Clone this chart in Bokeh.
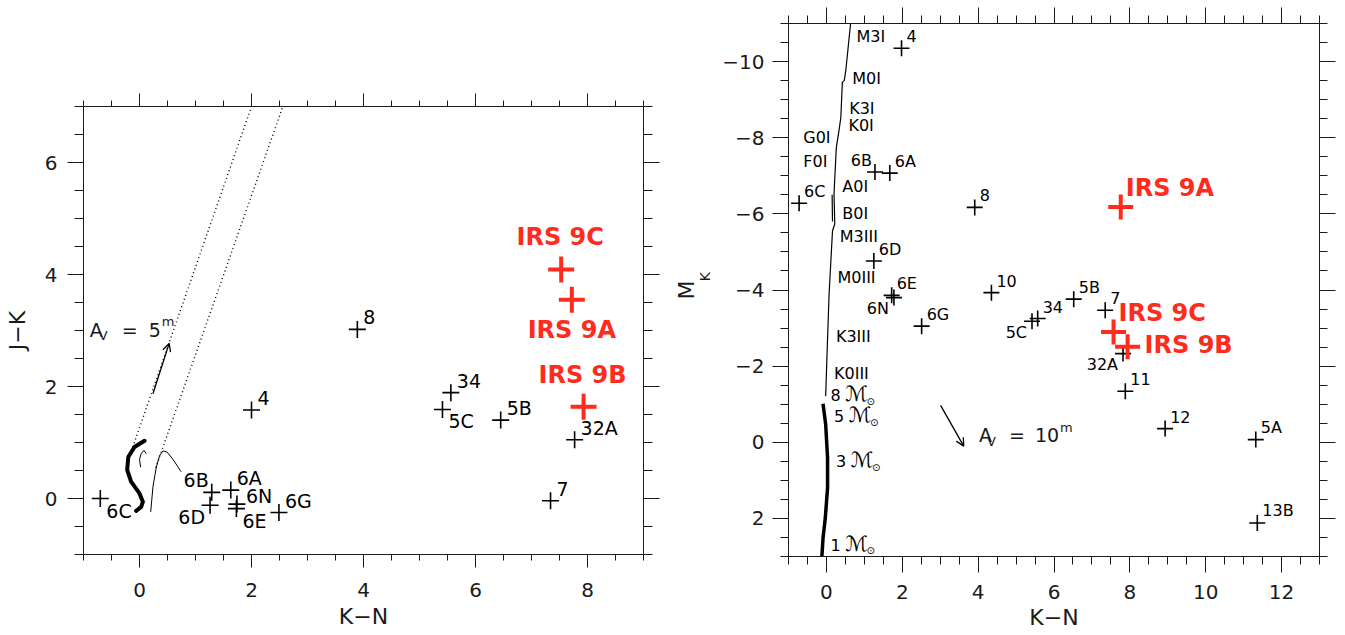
from bokeh.plotting import figure
from bokeh.models import (Range1d, LinearAxis, FixedTicker, Arrow, OpenHead,
                          ColumnDataSource)
from bokeh.layouts import row, column
from bokeh.embed import file_html
from bokeh.resources import INLINE
from bokeh.core.properties import value

# ---------------- data: colour-colour diagram (K-N, J-K) ----------------
cc_names = ["6C", "6B", "6A", "6D", "6N", "6E", "6G", "4", "8", "34", "5C", "5B", "32A", "7"]
cc_kn = [-0.70, 1.29, 1.63, 1.26, 1.74, 1.73, 2.49, 2.00, 3.89, 5.56, 5.41, 6.45, 7.77, 7.34]
cc_jk = [0.00, 0.11, 0.15, -0.12, -0.10, -0.18, -0.25, 1.58, 3.02, 1.89, 1.59, 1.40, 1.05, -0.04]
cc_pos = ["lr", "ul", "ur", "ll", "r", "lr", "ur", "ur", "ur", "ur", "lr", "ur", "ur", "ur"]

irs_names = ["IRS 9C", "IRS 9A", "IRS 9B"]
irs_cc_kn = [7.53, 7.72, 7.93]
irs_cc_jk = [4.09, 3.55, 1.64]
irs_cc_pos = ["a", "b", "a"]

# dwarf sequence (thick), small arc, giant branch (thin)
ms_cc_kn = [0.09, -0.09, -0.20, -0.22, -0.15, 0.00, 0.06, 0.03, -0.06]
ms_cc_jk = [1.03, 0.92, 0.74, 0.51, 0.30, 0.09, -0.06, -0.15, -0.22]
arc_cc_kn = [0.02, 0.00, 0.03, 0.08, 0.12]
arc_cc_jk = [0.56, 0.70, 0.80, 0.86, 0.80]
gb_cc_kn = [0.20, 0.24, 0.30, 0.36, 0.42, 0.49, 0.59, 0.69, 0.74]
gb_cc_jk = [-0.24, 0.21, 0.56, 0.77, 0.85, 0.83, 0.71, 0.56, 0.48]
# reddening band
red1_kn = [-0.12, 2.00]
red1_jk = [0.92, 7.00]
red2_kn = [0.29, 2.56]
red2_jk = [0.55, 7.00]
# reddening vector A_V = 5 mag
av_cc_kn = [0.24, 0.53]
av_cc_jk = [1.87, 2.77]
av_cc_val = "5"
av_cc_text_pos = (-0.89, 2.875)

# ---------------- data: K-N vs M_K ----------------
hr_names = ["4", "6B", "6A", "6C", "8", "6D", "6E", "6N", "10", "6G", "34", "5C", "5B", "7",
            "32A", "11", "12", "5A", "13B"]
hr_kn = [1.98, 1.28, 1.67, -0.72, 3.91, 1.25, 1.72, 1.78, 4.35, 2.51, 5.57, 5.42, 6.52, 7.35,
         7.82, 7.88, 8.93, 11.32, 11.36]
hr_mk = [-10.35, -7.10, -7.07, -6.28, -6.17, -4.76, -3.86, -3.80, -3.93, -3.05, -3.25, -3.18,
         -3.76, -3.47, -2.33, -1.34, -0.36, -0.07, 2.12]
hr_pos = ["ur", "ul", "ur", "ur", "ur", "ur", "ur", "ll", "ur", "ur", "ur", "ll", "ur", "ur",
          "ll", "ur", "ur", "ur", "ur"]

irs_hr_kn = [7.57, 7.76, 7.94]
irs_hr_mk = [-2.90, -6.18, -2.51]
irs_hr_names = ["IRS 9C", "IRS 9A", "IRS 9B"]
irs_hr_pos = ["ur", "ur", "r"]

# supergiant/giant sequence (thin) and main sequence (thick)
sg_kn = [0.64, 0.51, 0.47, 0.42, 0.38, 0.33, 0.26, 0.23, 0.20, 0.22, 0.16, 0.07, 0.01, -0.02]
sg_mk = [-11.03, -9.76, -9.50, -9.46, -8.53, -8.18, -7.74, -7.13, -6.52, -5.74, -5.55, -3.89,
         -2.13, -1.21]
sg2_kn = [0.15, 0.16]
sg2_mk = [-6.50, -5.80]
ms_hr_kn = [-0.09, -0.02, 0.03, 0.03, -0.03, -0.09, -0.12]
ms_hr_mk = [-1.01, -0.47, 0.41, 1.20, 1.99, 2.52, 3.00]

sp_labels = ["M3I", "M0I", "K3I", "K0I", "G0I", "F0I", "A0I", "B0I", "M3III", "M0III",
             "K3III", "K0III"]
sp_kn = [0.79, 0.68, 0.60, 0.58, -0.61, -0.61, 0.42, 0.42, 0.35, 0.29, 0.25, 0.20]
sp_mk = [-10.64, -9.54, -8.75, -8.30, -7.98, -7.36, -6.68, -5.97, -5.39, -4.29, -2.76, -1.78]

mass_values = ["8", "5", "3", "1"]
mass_kn = [0.11, 0.20, 0.25, 0.11]
mass_mk = [-1.18, -0.63, 0.55, 2.74]

av_hr_kn = [3.01, 3.62]
av_hr_mk = [-0.97, 0.10]
av_hr_val = "10"
av_hr_text_pos = (4.02, 0.02)

RED = "#ff2b1c"
INK = "#1a1a1a"
FONT = "DejaVu Sans"


def style_axis(ax, ticks, minor, tick_out, minor_out, labels=True, size="20px",
               standoff=10):
    ax.ticker = FixedTicker(ticks=ticks, minor_ticks=minor)
    ax.axis_line_color = INK
    ax.major_tick_line_color = INK
    ax.minor_tick_line_color = INK
    ax.major_tick_in = 0
    ax.minor_tick_in = 0
    ax.major_tick_out = tick_out
    ax.minor_tick_out = minor_out
    ax.major_label_text_font = FONT
    ax.major_label_text_color = INK
    ax.axis_label_text_font = FONT
    ax.axis_label_text_font_style = "normal"
    ax.axis_label_text_color = INK
    ax.axis_label_text_font_size = "22px"
    if labels:
        ax.major_label_text_font_size = size
        ax.major_label_standoff = standoff
    else:
        ax.major_label_text_font_size = "1px"
        ax.major_label_text_alpha = 0
        ax.major_label_standoff = 0


def lift(size_px):
    # empirical correction of the baseline placement of the SVG text
    return round(0.44 * size_px)


def add_labels(p, xs, ys, names, pos, offs, size, color="black", style="normal"):
    for code, (align, dx, dy) in offs.items():
        idx = [i for i, c in enumerate(pos) if c == code]
        if not idx:
            continue
        src = ColumnDataSource(dict(x=[xs[i] for i in idx], y=[ys[i] for i in idx],
                                    t=[names[i] for i in idx]))
        p.text(x="x", y="y", text="t", source=src, x_offset=dx, y_offset=dy - lift(size),
               text_align=value(align), text_baseline=value("alphabetic"),
               text_font=value(FONT), text_font_size=value(f"{size}px"), text_color=color,
               text_font_style=style)


def add_pieces(p, x, y, pieces):
    for txt, dx, dy, size in pieces:
        p.text(x=[x], y=[y], text=[txt], x_offset=dx, y_offset=dy - lift(size),
               text_align="left", text_baseline="alphabetic",
               text_font=value(FONT), text_font_size=value(f"{size}px"), text_color=INK)


def half_steps(a, b):
    n = int(round((b - a) / 0.5))
    return [a + 0.5 * k for k in range(n + 1)]


# ---------------- left panel ----------------
p1 = figure(width=670, height=635, x_range=Range1d(-1, 9), y_range=Range1d(-1, 7),
            output_backend="svg", toolbar_location=None,
            min_border_left=83, min_border_right=27, min_border_top=106,
            min_border_bottom=81, outline_line_color=None,
            background_fill_color="white", border_fill_color="white")
p1.xgrid.visible = False
p1.ygrid.visible = False
p1.xaxis.axis_label = "K\u2212N"
p1.yaxis.axis_label = "J\u2212K"
style_axis(p1.xaxis[0], [0, 2, 4, 6, 8], half_steps(-1, 9), 13, 6, standoff=15)
p1.xaxis[0].axis_label_standoff = 4
style_axis(p1.yaxis[0], [0, 2, 4, 6], half_steps(-1, 7), 16, 9, standoff=10)
p1.yaxis[0].axis_label_standoff = 12
top1 = LinearAxis()
style_axis(top1, [0, 2, 4, 6, 8], half_steps(-1, 9), 13, 6, labels=False)
p1.add_layout(top1, "above")
right1 = LinearAxis()
style_axis(right1, [0, 2, 4, 6], half_steps(-1, 7), 16, 9, labels=False)
p1.add_layout(right1, "right")

p1.line(red1_kn, red1_jk, line_color="black", line_width=1.4, line_dash="1 3")
p1.line(red2_kn, red2_jk, line_color="black", line_width=1.4, line_dash="1 3")
p1.line(ms_cc_kn, ms_cc_jk, line_color="black", line_width=4, line_cap="round",
        line_join="round")
p1.line(arc_cc_kn, arc_cc_jk, line_color="black", line_width=1)
p1.line(gb_cc_kn, gb_cc_jk, line_color="black", line_width=1)
p1.add_layout(Arrow(x_start=av_cc_kn[0], y_start=av_cc_jk[0], x_end=av_cc_kn[1],
                    y_end=av_cc_jk[1], line_color="black", line_width=1.3,
                    end=OpenHead(size=8, line_width=1.3, line_color="black")))
add_pieces(p1, av_cc_text_pos[0], av_cc_text_pos[1],
           [("A", 0, 0, 19), ("V", 9, 4, 13), ("=", 32, 0, 19),
            (av_cc_val, 59, 0, 19), ("m", 72, -10, 13)])

p1.scatter(cc_kn, cc_jk, marker="cross", size=17, line_color="black", line_width=1.6)
add_labels(p1, cc_kn, cc_jk, cc_names, cc_pos,
           {"ur": ("left", 6, -4), "lr": ("left", 6, 20), "ul": ("right", -3, -4),
            "ll": ("right", -5, 20), "r": ("left", 9, 0)}, 19)
p1.scatter(irs_cc_kn, irs_cc_jk, marker="cross", size=26, line_color=RED, line_width=4)
add_labels(p1, irs_cc_kn, irs_cc_jk, irs_names, irs_cc_pos,
           {"a": ("center", -1, -21), "b": ("center", 0, 41)}, 24, color=RED,
           style="bold")

# ---------------- right panel ----------------
p2 = figure(width=675, height=635, x_range=Range1d(-1, 13), y_range=Range1d(3, -11),
            output_backend="svg", toolbar_location=None,
            min_border_left=116, min_border_right=26, min_border_top=23,
            min_border_bottom=79, outline_line_color=None,
            background_fill_color="white", border_fill_color="white")
p2.xgrid.visible = False
p2.ygrid.visible = False
p2.xaxis.axis_label = "K\u2212N"
style_axis(p2.xaxis[0], [0, 2, 4, 6, 8, 10, 12], half_steps(-1, 13), 16, 8, standoff=12)
p2.xaxis[0].axis_label_standoff = 3
style_axis(p2.yaxis[0], [-10, -8, -6, -4, -2, 0, 2], half_steps(-11, 3), 16, 8, standoff=8)
# subscript "K" of M_K sits on the inner axis, "M" on an outer, tick-less axis
p2.yaxis[0].axis_label = "\u00a0\u00a0\u00a0\u00a0\u00a0\u00a0K"
p2.yaxis[0].axis_label_text_font_size = "14px"
p2.yaxis[0].axis_label_standoff = 6
outer = LinearAxis(axis_label="M")
style_axis(outer, [], [], 0, 0, labels=False)
outer.axis_line_color = None
outer.axis_label_standoff = -4
p2.add_layout(outer, "left")
top2 = LinearAxis()
style_axis(top2, [0, 2, 4, 6, 8, 10, 12], half_steps(-1, 13), 16, 8, labels=False)
p2.add_layout(top2, "above")
right2 = LinearAxis()
style_axis(right2, [-10, -8, -6, -4, -2, 0, 2], half_steps(-11, 3), 16, 8, labels=False)
p2.add_layout(right2, "right")

p2.line(sg_kn, sg_mk, line_color="black", line_width=1.2)
p2.line(sg2_kn, sg2_mk, line_color="black", line_width=1.2)
p2.line(ms_hr_kn, ms_hr_mk, line_color="black", line_width=3.5, line_join="round")
p2.add_layout(Arrow(x_start=av_hr_kn[0], y_start=av_hr_mk[0], x_end=av_hr_kn[1],
                    y_end=av_hr_mk[1], line_color="black", line_width=1.3,
                    end=OpenHead(size=8, line_width=1.3, line_color="black")))
add_pieces(p2, av_hr_text_pos[0], av_hr_text_pos[1],
           [("A", 0, 0, 19), ("V", 8, 4, 13), ("=", 30, 0, 19),
            (av_hr_val, 56, 0, 19), ("m", 81, -10, 13)])

add_labels(p2, sp_kn, sp_mk, sp_labels, ["m"] * len(sp_labels),
           {"m": ("left", 0, 6)}, 16)
add_labels(p2, mass_kn, mass_mk, mass_values,
           ["m"] * len(mass_values), {"m": ("left", 0, 5)}, 16)
add_labels(p2, mass_kn, mass_mk, ["\u2133"] * len(mass_values),
           ["m"] * len(mass_values), {"m": ("left", 15, 6)}, 21)
add_labels(p2, mass_kn, mass_mk, ["\u2299"] * len(mass_values),
           ["m"] * len(mass_values), {"m": ("left", 36, 8)}, 10)

p2.scatter(hr_kn, hr_mk, marker="cross", size=16, line_color="black", line_width=1.6)
add_labels(p2, hr_kn, hr_mk, hr_names, hr_pos,
           {"ur": ("left", 5, -5), "ul": ("right", -3, -4), "ll": ("right", -5, 18)}, 16)
p2.scatter(irs_hr_kn, irs_hr_mk, marker="cross", size=25, line_color=RED, line_width=4)
add_labels(p2, irs_hr_kn, irs_hr_mk, irs_hr_names, irs_hr_pos,
           {"ur": ("left", 5, -8), "r": ("left", 17, 9)}, 24, color=RED, style="bold")

layout = row(column(p1), column(p2))
open("out.html", "w").write(file_html(layout, INLINE))
